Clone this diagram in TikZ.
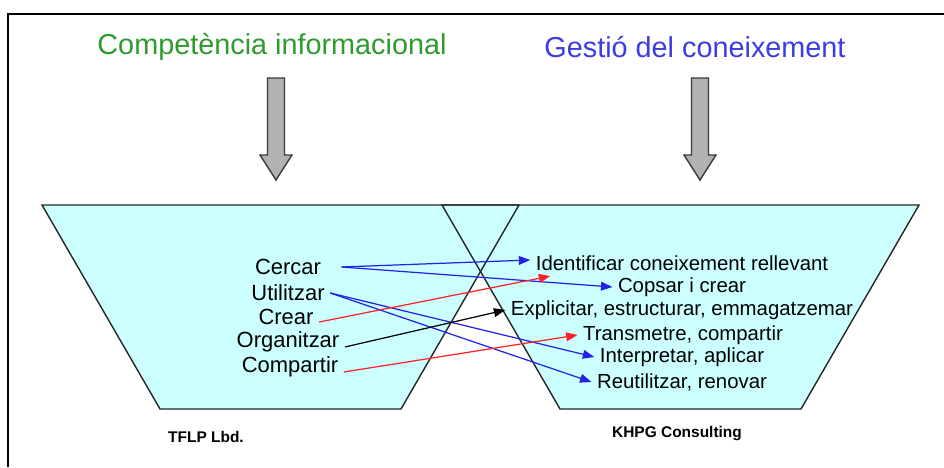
\documentclass[tikz,border=0pt]{standalone}
\usepackage{fontspec}
\setmainfont{Liberation Sans}
\usetikzlibrary{arrows.meta}

\definecolor{funnelfill}{HTML}{CCFFFF}
\definecolor{titlegreen}{HTML}{2F9A2F}
\definecolor{titleblue}{HTML}{3C3CE6}
\definecolor{linkblue}{HTML}{2222E6}
\definecolor{linkred}{HTML}{FF2222}

\begin{document}
\begin{tikzpicture}[x=0.02cm, y=-0.02cm,
  skill/.style={inner sep=3pt, font=\fontsize{12.5}{14}\selectfont},
  task/.style={inner sep=3pt, font=\fontsize{11.6}{13}\selectfont},
  heading/.style={font=\fontsize{16.4}{19}\selectfont},
  firm/.style={font=\fontsize{8.8}{10}\selectfont\bfseries},
  link/.style={line width=0.7pt, -{Triangle[length=6.5pt, width=5pt]}},
  feed/.style={fill=gray!60, draw=gray!45!black, line width=0.8pt}]

  \useasboundingbox (0,0) rectangle (944,467);

  \def\xl{276} \def\xr{700}

  % frame
  \draw[line width=1.1pt] (8,467) -- (8,14) -- (944,14);

  % titles and feed arrows
  \node[heading, text=titlegreen] (tci) at (272,47) {Competència informacional};
  \node[heading, text=titleblue] (tgc) at (695,47) {Gestió del coneixement};
  \foreach \xa in {\xl,\xr} {
    \draw[feed] (\xa-8.5,78) -- (\xa+8.5,78) -- (\xa+8.5,155) -- (\xa+16,155)
      -- (\xa,180) -- (\xa-16,155) -- (\xa-8.5,155) -- cycle;
  }

  % funnels
  \foreach \dx in {0,400} {
    \fill[funnelfill] (42+\dx,205) -- (519+\dx,205) -- (401+\dx,409) -- (160+\dx,409) -- cycle;
  }
  \foreach \dx in {0,400} {
    \draw[gray!30!black, line width=0.8pt]
      (42+\dx,205) -- (519+\dx,205) -- (401+\dx,409) -- (160+\dx,409) -- cycle;
  }

  % left column
  \node[skill] (cercar) at (288,267) {Cercar};
  \node[skill] (utilitzar) at (288,293) {Utilitzar};
  \node[skill] (crear) at (286,317) {Crear};
  \node[skill] (organitzar) at (288,342) {Organitzar};
  \node[skill] (compartir) at (290,367) {Compartir};

  % right column
  \node[task] (ident) at (682,263) {Identificar coneixement rellevant};
  \node[task] (copsar) at (682,287) {Copsar i crear};
  \node[task] (explicit) at (682,310) {Explicitar, estructurar, emmagatzemar};
  \node[task] (transm) at (683,335) {Transmetre, compartir};
  \node[task] (interp) at (682,357) {Interpretar, aplicar};
  \node[task] (reutil) at (682,382) {Reutilitzar, renovar};

  % links
  \draw[link, linkblue] ([xshift=0.3cm]cercar.east) -- ([yshift=0.06cm]ident.west);
  \draw[link, linkblue] ([xshift=0.3cm]cercar.east) -- (copsar.west);
  \draw[link, linkblue] (utilitzar.east) -- (interp.west);
  \draw[link, linkblue] (utilitzar.east) -- (reutil.west);
  \draw[link, linkred] ([yshift=-0.1cm]crear.east) -- ([xshift=0.4cm]ident.south west);
  \draw[link, black] ([yshift=-0.1cm]organitzar.east) -- (explicit.west);
  \draw[link, linkred] ([yshift=-0.1cm]compartir.east) -- (transm.west);

  % companies
  \node[firm] (tflp) at (206,437) {TFLP Lbd.};
  \node[firm] (khpg) at (677,434) {KHPG Consulting};

\end{tikzpicture}
\end{document}
